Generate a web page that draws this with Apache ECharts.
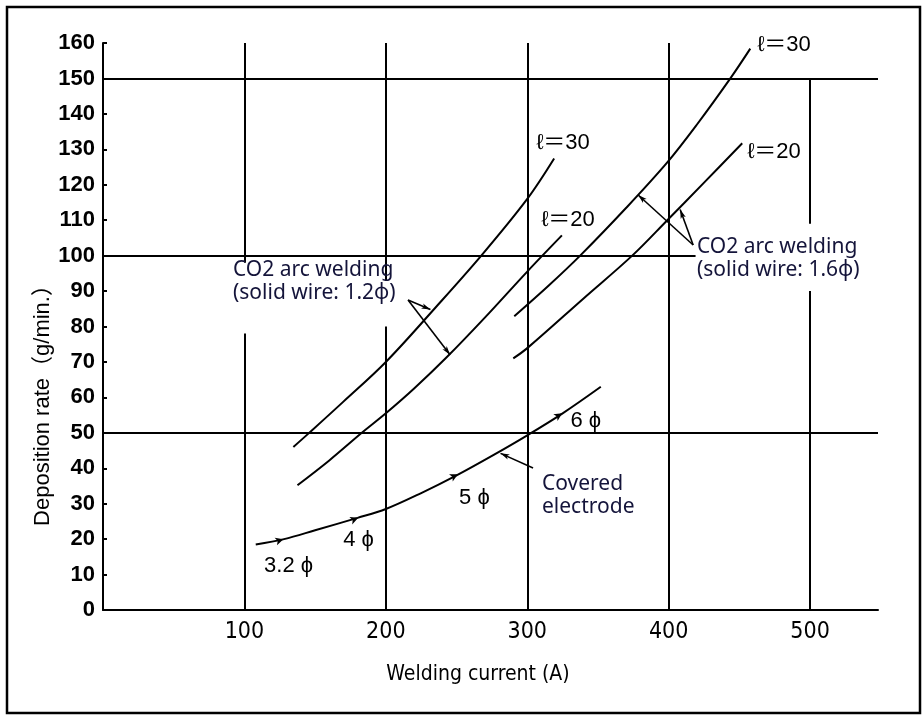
<!DOCTYPE html>
<html>
<head>
<meta charset="utf-8">
<script src="https://cdn.jsdelivr.net/npm/echarts@6/dist/echarts.min.js"></script>
<style>
  html, body { margin: 0; padding: 0; background: #fff; }
  #chart { width: 923px; height: 716px; }
</style>
</head>
<body>
<div id="chart"></div>
<script>
// axis ranges
var yMin = 0, yMax = 160, yStep = 10;
var xMin = 0, xMax = 548, xStep = 100;

// curves: [current (A), deposition rate (g/min.)]
var coveredElectrode = [[108,18.5],[128,20],[150,22.5],[180,26],[200,28.5],[225,33],[250,38],[275,43.5],[300,49.3],[325,55.5],[352,63]];
var wire12L30 = [[134.6,46],[145,49.7],[170,58.8],[200,70],[235,85.3],[267.5,100],[300,116],[319,127.4]];
var wire12L20 = [[137.5,35.2],[160,42.2],[183,50],[200,55.5],[220,62.5],[243,71.3],[270,82.5],[300,95.5],[324.5,105.7]];
var wire16L30 = [[290.8,82.9],[315,91.5],[337.4,100],[370,113.5],[399,126.3],[420,137],[443.6,150],[457.7,158.4]];
var wire16L20 = [[290.1,71],[300,73.9],[340,88],[374.2,100],[399,110],[425,120.6],[452,131.7]];

// electrode diameters marked on the covered electrode curve
var rodSizes = ['3.2 ϕ', '4 ϕ', '5 ϕ', '6 ϕ'];
var rodPoints = [[127.6,20],[180.5,26],[251,38.3],[324.7,55.5]];

// reference grid (broken where the notes sit)
var gridVertical = [[100,0,78],[100,98,160],[200,0,80],[200,93,160],[300,0,160],[400,0,160],[500,0,90],[500,109,150]];
var gridHorizontal = [[50,0,548],[100,0,419],[150,0,548]];

// pointer arrows of the notes: [from, to]
var noteArrows = [
  [[215.7,87.5],[231.5,84.8]],
  [[215.7,87.5],[245.4,72]],
  [[417.3,103],[378.4,117.1]],
  [[417.3,103],[408.1,113]],
  [[304.1,40.1],[281.1,44.2]]
];

var chart = echarts.init(document.getElementById('chart'));

var numFont = '"Liberation Sans", Arial, sans-serif';
var narrowFont = '"Liberation Sans Narrow", "DejaVu Sans Condensed", "Liberation Sans", sans-serif';
var noteFont = '"Noto Sans", "Noto Sans CJK JP", sans-serif';
var noteColor = '#14143a';

var gridLines = [];
gridVertical.forEach(function(g) {
  gridLines.push([{coord: [g[0], g[1]]}, {coord: [g[0], g[2]]}]);
});
gridHorizontal.forEach(function(g) {
  gridLines.push([{coord: [g[1], g[0]]}, {coord: [g[2], g[0]]}]);
});

var arrowLines = noteArrows.map(function(a) {
  return [{coord: a[0]}, {coord: a[1]}];
});

var rodLabelOffset = [[9,26],[4,21],[20,22],[27,5]];
var rodRotate = [-73,-69,-63,-58];

function curve(name, data) {
  return {
    name: name,
    type: 'line',
    data: data,
    smooth: 0.35,
    showSymbol: false,
    silent: true,
    lineStyle: {color: '#000', width: 2},
    z: 3
  };
}

function note(text, x, y, opts) {
  opts = opts || {};
  return {
    type: 'text',
    x: x, y: y,
    z: 10,
    style: {
      text: text,
      font: (opts.size || 21) + 'px ' + (opts.family || noteFont),
      fill: opts.color || noteColor,
      lineHeight: opts.lineHeight || 23,
      align: opts.align || 'left',
      verticalAlign: opts.valign || 'top'
    }
  };
}

var option = {
  backgroundColor: '#fff',
  animation: false,
  grid: {left: 103, right: 45, top: 43, bottom: 106, containLabel: false},
  xAxis: {
    type: 'value',
    min: xMin, max: xMax, interval: xStep,
    axisLine: {show: true, onZero: false, lineStyle: {color: '#000', width: 2}},
    axisTick: {show: false},
    splitLine: {show: false},
    axisLabel: {
      showMinLabel: false, showMaxLabel: false,
      color: '#000', fontSize: 23, margin: 11,
      fontFamily: narrowFont
    }
  },
  yAxis: {
    type: 'value',
    min: yMin, max: yMax, interval: yStep,
    axisLine: {show: true, lineStyle: {color: '#000', width: 2}},
    axisTick: {show: true, inside: true, length: 4, lineStyle: {color: '#000', width: 2}},
    splitLine: {show: false},
    axisLabel: {color: '#000', fontSize: 22, fontWeight: 'bold', margin: 8, fontFamily: numFont}
  },
  series: [
    {
      name: 'grid',
      type: 'line',
      data: [],
      silent: true,
      markLine: {
        silent: true,
        symbol: ['none', 'none'],
        label: {show: false},
        lineStyle: {color: '#000', width: 2, type: 'solid'},
        data: gridLines
      }
    },
    curve('Covered electrode', coveredElectrode),
    curve('CO2 1.2 l=30', wire12L30),
    curve('CO2 1.2 l=20', wire12L20),
    curve('CO2 1.6 l=30', wire16L30),
    curve('CO2 1.6 l=20', wire16L20),
    {
      name: 'arrows',
      type: 'line',
      data: [],
      silent: true,
      markLine: {
        silent: true,
        symbol: ['none', 'arrow'],
        symbolSize: [4, 9],
        label: {show: false},
        lineStyle: {color: '#000', width: 1.6, type: 'solid'},
        data: arrowLines
      }
    },
    {
      name: 'rods',
      type: 'scatter',
      silent: true,
      z: 4,
      data: rodPoints.map(function(p, i) {
        return {
          value: p,
          symbolRotate: rodRotate[i],
          label: {
            show: true,
            formatter: rodSizes[i],
            position: 'inside',
            offset: rodLabelOffset[i],
            color: '#000',
            fontSize: 22,
            fontFamily: numFont
          }
        };
      }),
      symbol: 'arrow',
      symbolSize: [6, 8],
      itemStyle: {color: '#000', opacity: 1}
    }
  ],
  graphic: [
    {
      type: 'rect', z: 0, silent: true,
      shape: {x: 7, y: 7, width: 913, height: 706},
      style: {fill: 'none', stroke: '#000', lineWidth: 2.5}
    },
    {
      type: 'text', x: 43, y: 400, rotation: Math.PI / 2,
      style: {
        text: 'Deposition rate（g/min.）',
        font: '22px "Liberation Sans", "Noto Sans CJK JP", sans-serif',
        fill: '#000', align: 'center', verticalAlign: 'middle'
      }
    },
    note('Welding current (A)', 478, 675, {size: 21, family: narrowFont, color: '#000', align: 'center', valign: 'middle'}),
    note('CO2 arc welding\n(solid wire: 1.2ϕ)', 233, 259),
    note('CO2 arc welding\n(solid wire: 1.6ϕ)', 697, 236),
    note('Covered\nelectrode', 542, 473),
    note('ℓ＝30', 563, 143, {size: 22, family: numFont + ', "Noto Sans CJK JP"', color: '#000', align: 'center', valign: 'middle'}),
    note('ℓ＝20', 568, 220, {size: 22, family: numFont + ', "Noto Sans CJK JP"', color: '#000', align: 'center', valign: 'middle'}),
    note('ℓ＝30', 784, 45, {size: 22, family: numFont + ', "Noto Sans CJK JP"', color: '#000', align: 'center', valign: 'middle'}),
    note('ℓ＝20', 774, 152, {size: 22, family: numFont + ', "Noto Sans CJK JP"', color: '#000', align: 'center', valign: 'middle'})
  ]
};

chart.setOption(option);
</script>
</body>
</html>
